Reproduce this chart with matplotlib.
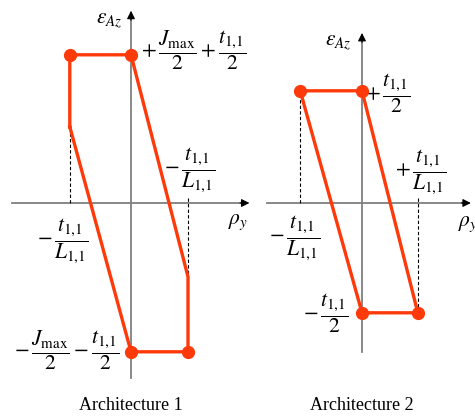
import matplotlib
matplotlib.use('Agg')
import matplotlib.pyplot as plt

plt.rcParams['font.family'] = ['Liberation Serif', 'DejaVu Serif']
plt.rcParams['mathtext.fontset'] = 'stix'

# data in units of rho (t/L = ~1)
# architecture 1: outer path of the region
arch1_rho = [-1.02, -1.02, 0.0, 0.95, 0.95, 0.0, -1.02]
arch1_eps = [1.27, 2.47, 2.47, -1.23, -2.48, -2.48, 1.27]
arch1_dots_rho = [-1.02, 0.0, 0.0, 0.95]
arch1_dots_eps = [2.47, 2.47, -2.48, -2.48]

# architecture 2: parallelogram
arch2_rho = [-1.03, 0.0, 0.93, 0.0, -1.03]
arch2_eps = [1.87, 1.87, -1.83, -1.83, 1.87]
arch2_dots_rho = [-1.03, 0.0, 0.0, 0.93]
arch2_dots_eps = [1.87, 1.87, -1.83, -1.83]

red = '#ff3a0a'
axc = '#7f7f7f'
PX = 60.0  # pixels per data unit
W, H = 475, 418
oy = 203

fig = plt.figure(figsize=(W / 100, H / 100), dpi=100)


def make_ax(x0, x1, ox):
    ax = fig.add_axes([x0 / W, 0, (x1 - x0) / W, 1])
    ax.set_xlim((x0 - ox) / PX, (x1 - ox) / PX)
    ax.set_ylim((oy - H) / PX, oy / PX)
    ax.axis('off')
    return ax


def draw_axes(ax, xa, xb, ya, yb):
    ax.plot([xa, xb - 0.1], [0, 0], color=axc, lw=1.3, clip_on=False, zorder=1)
    ax.plot([0, 0], [ya, yb - 0.1], color=axc, lw=1.3, clip_on=False, zorder=1)
    ax.annotate('', xy=(xb, 0), xytext=(xb - 0.25, 0),
                arrowprops=dict(arrowstyle='-|>', color='black', lw=0.8, mutation_scale=12),
                annotation_clip=False)
    ax.annotate('', xy=(0, yb), xytext=(0, yb - 0.25),
                arrowprops=dict(arrowstyle='-|>', color='black', lw=0.8, mutation_scale=12),
                annotation_clip=False)


fs = 15.5
t11 = r't_{1{,}1}'
L11 = r'L_{1{,}1}'
jmax = r'J_{\mathrm{max}}'

# ---- Architecture 1
ax1 = make_ax(0, 240, 131)
draw_axes(ax1, -1.98, 2.02, -2.92, 3.25)
ax1.plot([arch1_rho[0], arch1_rho[0]], [0, arch1_eps[0]], 'k--', lw=0.8, dashes=(3, 2))
ax1.plot([arch1_rho[3], arch1_rho[3]], [0.08, arch1_eps[3]], 'k--', lw=0.8, dashes=(3, 2))
ax1.plot(arch1_rho, arch1_eps, color=red, lw=2.4, zorder=3)
ax1.plot(arch1_dots_rho, arch1_dots_eps, 'o', color=red, ms=8.5, zorder=4)
ax1.text(0.17, 2.55, r'$+\,\dfrac{%s}{2}+\dfrac{%s}{2}$' % (jmax, t11), fontsize=fs,
         ha='left', va='center')
ax1.text(0.55, 0.55, r'$-\,\dfrac{%s}{%s}$' % (t11, L11), fontsize=fs, ha='left', va='center')
ax1.text(-0.72, -0.62, r'$-\,\dfrac{%s}{%s}$' % (t11, L11), fontsize=fs, ha='right', va='center')
ax1.text(-0.2, -2.45, r'$-\,\dfrac{%s}{2}-\dfrac{%s}{2}$' % (jmax, t11), fontsize=fs,
         ha='right', va='center')
ax1.text(-0.15, 3.05, r'$\varepsilon_{Az}$', fontsize=fs, ha='right', va='center')
ax1.text(1.62, -0.32, r'$\rho_{y}$', fontsize=fs, ha='left', va='center')
ax1.text(0, -3.37, 'Architecture 1', fontsize=13, ha='center', va='center')

# ---- Architecture 2
ax2 = make_ax(240, 475, 362)
draw_axes(ax2, -1.58, 1.86, -2.48, 2.88)
ax2.plot([arch2_rho[0], arch2_rho[0]], [0, arch2_eps[0]], 'k--', lw=0.8, dashes=(3, 2))
ax2.plot([arch2_rho[2], arch2_rho[2]], [0.08, arch2_eps[2]], 'k--', lw=0.8, dashes=(3, 2))
ax2.plot(arch2_rho, arch2_eps, color=red, lw=2.4, zorder=3)
ax2.plot(arch2_dots_rho, arch2_dots_eps, 'o', color=red, ms=8.5, zorder=4)
ax2.text(0.05, 1.83, r'$+\,\dfrac{%s}{2}$' % t11, fontsize=fs, ha='left', va='center')
ax2.text(0.55, 0.52, r'$+\,\dfrac{%s}{%s}$' % (t11, L11), fontsize=fs, ha='left', va='center')
ax2.text(-0.7, -0.58, r'$-\,\dfrac{%s}{%s}$' % (t11, L11), fontsize=fs, ha='right', va='center')
ax2.text(-0.23, -1.83, r'$-\,\dfrac{%s}{2}$' % t11, fontsize=fs, ha='right', va='center')
ax2.text(-0.17, 2.68, r'$\varepsilon_{Az}$', fontsize=fs, ha='right', va='center')
ax2.text(1.6, -0.35, r'$\rho_{y}$', fontsize=fs, ha='left', va='center', clip_on=False)
ax2.text(0, -3.37, 'Architecture 2', fontsize=13, ha='center', va='center')

fig.savefig('out.png', dpi=100)
